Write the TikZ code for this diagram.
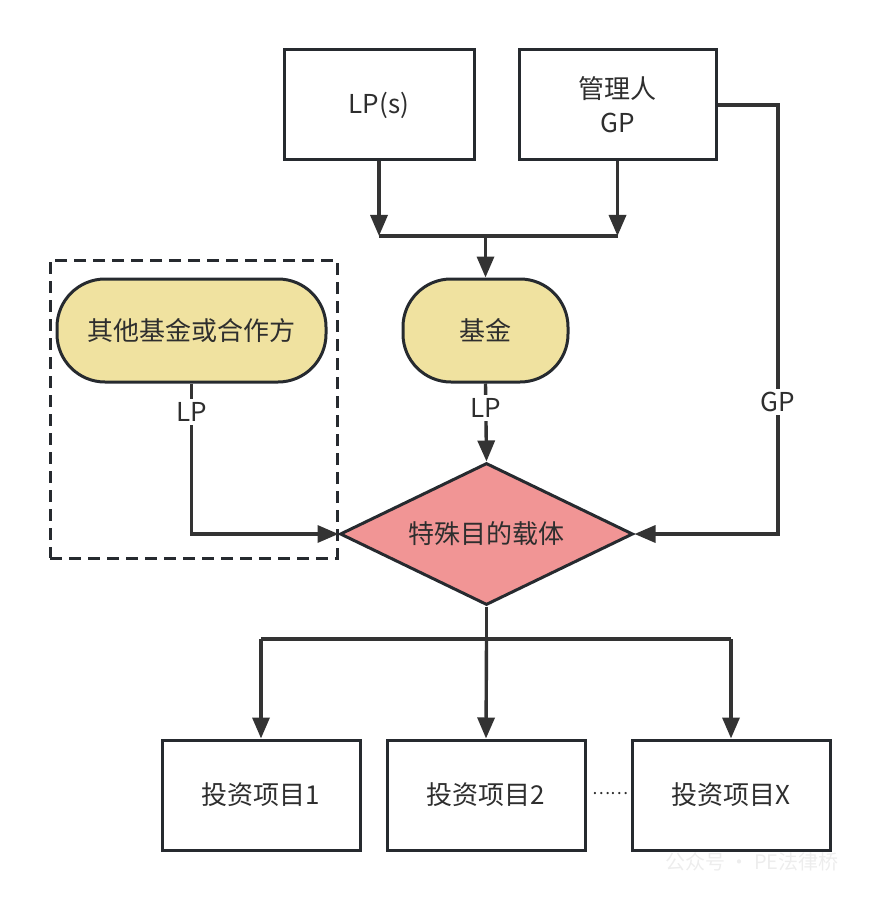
\documentclass[tikz,border=0pt]{standalone}
\usepackage{fontspec}
\setmainfont{Noto Sans CJK SC}
\usetikzlibrary{arrows.meta,shapes.geometric}
\definecolor{linec}{HTML}{333333}
\definecolor{borderc}{HTML}{262A2F}
\definecolor{textc}{HTML}{2E2E2E}
\definecolor{pillc}{HTML}{F0E2A0}
\definecolor{diac}{HTML}{F19595}
\begin{document}
\begin{tikzpicture}[x=1pt,y=-1pt,
  txt/.style={text=textc, font=\fontsize{26}{34}\selectfont},
  box/.style={txt, draw=borderc, line width=3pt, fill=white, minimum height=110pt, inner sep=0pt, align=center},
  pill/.style={txt, draw=borderc, line width=3pt, fill=pillc, rounded corners=48pt, minimum height=103pt, inner sep=0pt},
  wire/.style={draw=linec, line width=3.4pt},
  conn/.style={wire, -{Triangle[length=21pt,width=17pt]}},
  lbl/.style={txt, fill=white, inner sep=3pt},
  grpbox/.style={draw=borderc, line width=3pt, dash pattern=on 12pt off 7pt, minimum width=287pt, minimum height=298pt, inner sep=0pt}
]
\useasboundingbox (0,0) rectangle (880,901);
% group
\node[grpbox] (grp) at (193.5,409) {};
% top boxes
\node[box, minimum width=190pt] (lps) at (379,105) {LP(s)};
\node[box, minimum width=197pt] (gp) at (617.5,105) {管理人\\GP};
% pills
\node[pill, minimum width=269pt] (other) at (191.5,330.5) {其他基金或合作方};
\node[pill, minimum width=165pt] (fund) at (485.5,330.5) {基金};
% diamond
\node[txt, diamond, draw=borderc, fill=diac, line width=3pt, aspect=2.06, minimum width=293pt, minimum height=142pt, inner sep=0pt] (spv) at (486.5,534) {特殊目的载体};
% bottom boxes
\node[box, minimum width=198pt] (p1) at (261,795) {投资项目1};
\node[box, minimum width=198pt] (p2) at (486,795) {投资项目2};
\node[box, minimum width=198pt] (px) at (731,795) {投资项目X};
\node[text=textc, font=\fontsize{17}{20}\selectfont, inner sep=0pt] (dots) at (610,794) {……};
% junction top
\coordinate (jm) at (485.5,236);
\draw[conn] (lps.south) -- (lps.south |- jm);
\draw[conn] (gp.south) -- (gp.south |- jm);
\draw[wire] (lps.south |- jm) -- (gp.south |- jm);
\draw[conn] (jm) -- (fund.north);
% other -> spv
\draw[conn] (other.south) -- (other.south |- spv.west) -- (spv.west);
\node[lbl] (lpl1) at (191.5,412) {LP};
% fund -> spv
\draw[conn] (fund.south) -- (spv.north);
\node[lbl] (lpl2) at (485.5,408) {LP};
% gp -> spv
\coordinate (gpc) at (778,105);
\coordinate (gpd) at (778,534);
\draw[conn] (gp.east) -- (gpc) -- (gpd) -- (spv.east);
\node[lbl] (gpl) at (778,402) {GP};
% spv -> projects
\coordinate (b) at (486.5,639);
\draw[wire] (spv.south) -- (b);
\draw[wire] (p1.north |- b) -- (px.north |- b);
\draw[conn] (p1.north |- b) -- (p1.north);
\draw[conn] (b) -- (p2.north);
\draw[conn] (px.north |- b) -- (px.north);
% watermark
\node[text=gray!14, font=\fontsize{20}{24}\selectfont, inner sep=0pt] (wm) at (752,862) {公众号 · PE法律桥};
\end{tikzpicture}
\end{document}
